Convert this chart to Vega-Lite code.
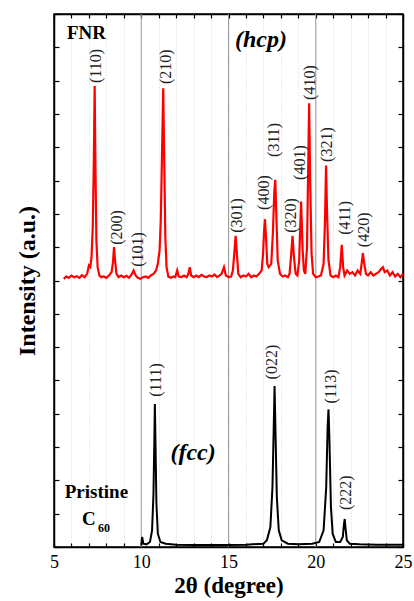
{
  "$schema": "https://vega.github.io/schema/vega-lite/v6.json",
  "width": 349,
  "height": 533,
  "autosize": "none",
  "padding": {"left": 54, "top": 14, "right": 11, "bottom": 54},
  "background": "white",
  "config": {
    "view": {"stroke": "black", "strokeWidth": 1.5},
    "axis": {"domainColor": "black", "domainWidth": 1.5, "tickColor": "black", "tickWidth": 1.2, "labelFont": "Liberation Serif", "titleFont": "Liberation Serif", "labelColor": "black", "titleColor": "black"}
  },
  "datasets": {
    "majors": [{"g": 10}, {"g": 15}, {"g": 20}],
    "fnr": [
      {"x": 5.56, "y": 8.05}, {"x": 5.7, "y": 8.12}, {"x": 5.85, "y": 8.08}, {"x": 6.0, "y": 8.15}, {"x": 6.15, "y": 8.1}, {"x": 6.3, "y": 8.13}, {"x": 6.45, "y": 8.08}, {"x": 6.6, "y": 8.16}, {"x": 6.75, "y": 8.1}, {"x": 6.9, "y": 8.2},
      {"x": 7.0, "y": 8.45}, {"x": 7.08, "y": 8.4}, {"x": 7.15, "y": 8.7}, {"x": 7.22, "y": 9.6}, {"x": 7.28, "y": 11.5}, {"x": 7.33, "y": 13.84}, {"x": 7.38, "y": 11.2}, {"x": 7.43, "y": 9.2}, {"x": 7.5, "y": 8.4}, {"x": 7.6, "y": 8.15},
      {"x": 7.7, "y": 8.1}, {"x": 7.85, "y": 8.12}, {"x": 8.0, "y": 8.08}, {"x": 8.15, "y": 8.15}, {"x": 8.3, "y": 8.25}, {"x": 8.38, "y": 8.55}, {"x": 8.44, "y": 9.0}, {"x": 8.5, "y": 8.6}, {"x": 8.58, "y": 8.2}, {"x": 8.7, "y": 8.1},
      {"x": 8.85, "y": 8.15}, {"x": 9.0, "y": 8.1}, {"x": 9.15, "y": 8.14}, {"x": 9.3, "y": 8.08}, {"x": 9.45, "y": 8.18}, {"x": 9.56, "y": 8.3}, {"x": 9.68, "y": 8.15}, {"x": 9.8, "y": 8.08}, {"x": 9.95, "y": 8.05}, {"x": 10.1, "y": 8.1},
      {"x": 10.25, "y": 8.12}, {"x": 10.4, "y": 8.08}, {"x": 10.55, "y": 8.15}, {"x": 10.7, "y": 8.2}, {"x": 10.85, "y": 8.3}, {"x": 10.95, "y": 8.5}, {"x": 11.05, "y": 8.9}, {"x": 11.12, "y": 9.8}, {"x": 11.19, "y": 11.8}, {"x": 11.26, "y": 13.77},
      {"x": 11.32, "y": 11.5}, {"x": 11.38, "y": 9.3}, {"x": 11.45, "y": 8.4}, {"x": 11.55, "y": 8.12}, {"x": 11.7, "y": 8.08}, {"x": 11.85, "y": 8.12}, {"x": 11.95, "y": 8.1}, {"x": 12.06, "y": 8.3}, {"x": 12.15, "y": 8.12}, {"x": 12.3, "y": 8.1},
      {"x": 12.45, "y": 8.15}, {"x": 12.6, "y": 8.1}, {"x": 12.7, "y": 8.2}, {"x": 12.78, "y": 8.4}, {"x": 12.86, "y": 8.15}, {"x": 13.0, "y": 8.1}, {"x": 13.15, "y": 8.15}, {"x": 13.3, "y": 8.1}, {"x": 13.45, "y": 8.17}, {"x": 13.6, "y": 8.12},
      {"x": 13.75, "y": 8.1}, {"x": 13.9, "y": 8.15}, {"x": 14.05, "y": 8.12}, {"x": 14.2, "y": 8.18}, {"x": 14.35, "y": 8.1}, {"x": 14.5, "y": 8.15}, {"x": 14.6, "y": 8.2}, {"x": 14.74, "y": 8.4}, {"x": 14.85, "y": 8.15}, {"x": 15.0, "y": 8.1},
      {"x": 15.15, "y": 8.12}, {"x": 15.25, "y": 8.3}, {"x": 15.33, "y": 8.8}, {"x": 15.41, "y": 9.34}, {"x": 15.48, "y": 8.8}, {"x": 15.56, "y": 8.2}, {"x": 15.7, "y": 8.1}, {"x": 15.85, "y": 8.15}, {"x": 16.0, "y": 8.12}, {"x": 16.15, "y": 8.2},
      {"x": 16.3, "y": 8.1}, {"x": 16.45, "y": 8.15}, {"x": 16.6, "y": 8.12}, {"x": 16.75, "y": 8.2}, {"x": 16.9, "y": 8.3}, {"x": 16.98, "y": 8.8}, {"x": 17.04, "y": 9.5}, {"x": 17.09, "y": 9.84}, {"x": 17.15, "y": 9.3}, {"x": 17.22, "y": 8.5},
      {"x": 17.3, "y": 8.4}, {"x": 17.45, "y": 8.5}, {"x": 17.55, "y": 9.5}, {"x": 17.62, "y": 10.6}, {"x": 17.68, "y": 11.02}, {"x": 17.74, "y": 10.0}, {"x": 17.82, "y": 8.6}, {"x": 17.95, "y": 8.2}, {"x": 18.1, "y": 8.12}, {"x": 18.25, "y": 8.15},
      {"x": 18.4, "y": 8.1}, {"x": 18.5, "y": 8.2}, {"x": 18.58, "y": 8.7}, {"x": 18.67, "y": 9.34}, {"x": 18.75, "y": 8.7}, {"x": 18.85, "y": 8.2}, {"x": 18.95, "y": 8.15}, {"x": 19.05, "y": 8.6}, {"x": 19.16, "y": 10.37}, {"x": 19.25, "y": 8.9},
      {"x": 19.32, "y": 8.3}, {"x": 19.4, "y": 8.2}, {"x": 19.5, "y": 9.0}, {"x": 19.57, "y": 11.5}, {"x": 19.62, "y": 13.32}, {"x": 19.68, "y": 11.0}, {"x": 19.76, "y": 8.8}, {"x": 19.85, "y": 8.2}, {"x": 20.0, "y": 8.1}, {"x": 20.15, "y": 8.12},
      {"x": 20.3, "y": 8.15}, {"x": 20.45, "y": 8.5}, {"x": 20.53, "y": 9.8}, {"x": 20.59, "y": 11.45}, {"x": 20.65, "y": 10.0}, {"x": 20.73, "y": 8.6}, {"x": 20.85, "y": 8.15}, {"x": 21.0, "y": 8.1}, {"x": 21.15, "y": 8.15}, {"x": 21.3, "y": 8.1},
      {"x": 21.4, "y": 8.4}, {"x": 21.49, "y": 9.07}, {"x": 21.57, "y": 8.4}, {"x": 21.65, "y": 8.15}, {"x": 21.8, "y": 8.3}, {"x": 21.95, "y": 8.2}, {"x": 22.1, "y": 8.25}, {"x": 22.25, "y": 8.15}, {"x": 22.4, "y": 8.3}, {"x": 22.55, "y": 8.2},
      {"x": 22.63, "y": 8.5}, {"x": 22.7, "y": 8.82}, {"x": 22.78, "y": 8.5}, {"x": 22.88, "y": 8.2}, {"x": 23.0, "y": 8.15}, {"x": 23.15, "y": 8.25}, {"x": 23.3, "y": 8.15}, {"x": 23.45, "y": 8.2}, {"x": 23.6, "y": 8.25}, {"x": 23.75, "y": 8.35},
      {"x": 23.85, "y": 8.4}, {"x": 23.95, "y": 8.25}, {"x": 24.1, "y": 8.3}, {"x": 24.25, "y": 8.15}, {"x": 24.4, "y": 8.25}, {"x": 24.55, "y": 8.12}, {"x": 24.7, "y": 8.2}, {"x": 24.85, "y": 8.1}, {"x": 25.0, "y": 8.2}
    ],
    "c60": [
      {"x": 10.0, "y": 0.05}, {"x": 10.05, "y": 0.3}, {"x": 10.12, "y": 0.1}, {"x": 10.3, "y": 0.08}, {"x": 10.5, "y": 0.15}, {"x": 10.62, "y": 0.5}, {"x": 10.7, "y": 1.6}, {"x": 10.75, "y": 3.2}, {"x": 10.78, "y": 4.29}, {"x": 10.82, "y": 3.0},
      {"x": 10.87, "y": 1.3}, {"x": 10.95, "y": 0.4}, {"x": 11.1, "y": 0.15}, {"x": 11.4, "y": 0.1}, {"x": 12.0, "y": 0.07}, {"x": 13.0, "y": 0.06}, {"x": 14.0, "y": 0.06}, {"x": 15.0, "y": 0.06}, {"x": 16.0, "y": 0.07}, {"x": 17.0, "y": 0.1},
      {"x": 17.2, "y": 0.2}, {"x": 17.4, "y": 0.6}, {"x": 17.52, "y": 1.8}, {"x": 17.6, "y": 3.8}, {"x": 17.64, "y": 4.83}, {"x": 17.68, "y": 3.8}, {"x": 17.77, "y": 1.5}, {"x": 17.88, "y": 0.5}, {"x": 18.05, "y": 0.2}, {"x": 18.4, "y": 0.1},
      {"x": 19.0, "y": 0.08}, {"x": 19.8, "y": 0.1}, {"x": 20.2, "y": 0.15}, {"x": 20.45, "y": 0.5}, {"x": 20.6, "y": 1.8}, {"x": 20.68, "y": 3.6}, {"x": 20.73, "y": 4.13}, {"x": 20.78, "y": 3.3}, {"x": 20.87, "y": 1.2}, {"x": 20.97, "y": 0.4},
      {"x": 21.15, "y": 0.15}, {"x": 21.4, "y": 0.15}, {"x": 21.55, "y": 0.3}, {"x": 21.62, "y": 0.7}, {"x": 21.66, "y": 0.84}, {"x": 21.7, "y": 0.6}, {"x": 21.78, "y": 0.2}, {"x": 21.95, "y": 0.1}, {"x": 22.5, "y": 0.08}, {"x": 23.5, "y": 0.07},
      {"x": 25.0, "y": 0.07}
    ],
    "peaks": [
      {"x": 7.4, "y": 13.93, "hkl": "(110)", "series": "FNR"},
      {"x": 8.61, "y": 9.07, "hkl": "(200)", "series": "FNR"},
      {"x": 9.8, "y": 8.41, "hkl": "(101)", "series": "FNR"},
      {"x": 11.4, "y": 13.9, "hkl": "(210)", "series": "FNR"},
      {"x": 15.49, "y": 9.43, "hkl": "(301)", "series": "FNR"},
      {"x": 17.03, "y": 10.12, "hkl": "(400)", "series": "FNR"},
      {"x": 17.6, "y": 11.71, "hkl": "(311)", "series": "FNR"},
      {"x": 18.61, "y": 9.43, "hkl": "(320)", "series": "FNR"},
      {"x": 19.09, "y": 11.02, "hkl": "(401)", "series": "FNR"},
      {"x": 19.66, "y": 13.42, "hkl": "(410)", "series": "FNR"},
      {"x": 20.67, "y": 11.56, "hkl": "(321)", "series": "FNR"},
      {"x": 21.7, "y": 9.37, "hkl": "(411)", "series": "FNR"},
      {"x": 22.74, "y": 9.0, "hkl": "(420)", "series": "FNR"},
      {"x": 10.86, "y": 4.51, "hkl": "(111)", "series": "C60"},
      {"x": 17.52, "y": 5.03, "hkl": "(022)", "series": "C60"},
      {"x": 20.9, "y": 4.31, "hkl": "(113)", "series": "C60"},
      {"x": 21.75, "y": 1.11, "hkl": "(222)", "series": "C60"}
    ],
    "boldnotes": [
      {"x": 6.86, "y": 15.43, "t": "FNR"},
      {"x": 7.43, "y": 1.65, "t": "Pristine"},
      {"x": 7.0, "y": 0.84, "t": "C"}
    ],
    "subnotes": [{"x": 7.86, "y": 0.57, "t": "60"}],
    "phases": [
      {"x": 16.86, "y": 15.22, "t": "(hcp)"},
      {"x": 12.97, "y": 2.82, "t": "(fcc)"}
    ]
  },
  "resolve": {"axis": {"x": "independent", "y": "independent"}},
  "layer": [
    {
      "data": {"name": "majors"},
      "mark": {"type": "rule", "color": "#9a9a9a", "strokeWidth": 1},
      "encoding": {"x": {"field": "g", "type": "quantitative", "scale": {"domain": [5, 25], "nice": false, "zero": false}, "axis": null}}
    },
    {
      "data": {"name": "fnr"},
      "mark": {"type": "line", "color": "#ff0000", "strokeWidth": 2.2, "clip": true},
      "encoding": {
        "x": {"field": "x", "type": "quantitative", "scale": {"domain": [5, 25], "nice": false, "zero": false},
          "axis": {"orient": "bottom", "values": [5,6,7,8,9,10,11,12,13,14,15,16,17,18,19,20,21,22,23,24,25], "labelExpr": "datum.value % 5 === 0 ? datum.label : ''", "tickSize": -4, "labelFontSize": 18, "labelPadding": 10, "labelFlush": false, "labelOverlap": false, "grid": true, "gridColor": "#d8d8d8", "gridDash": [1, 2], "gridWidth": 1, "title": "2θ (degree)", "titleFontSize": 23, "titleFontWeight": "bold", "titlePadding": 3}},
        "y": {"field": "y", "type": "quantitative", "scale": {"domain": [0, 16], "nice": false, "zero": false},
          "axis": {"orient": "left", "values": [0,1,2,3,4,5,6,7,8,9,10,11,12,13,14,15,16], "labels": false, "tickSize": -5, "grid": false, "title": "Intensity (a.u.)", "titleFontSize": 24, "titleFontWeight": "bold", "titlePadding": 14}}
      }
    },
    {
      "data": {"name": "c60"},
      "mark": {"type": "line", "color": "black", "strokeWidth": 2, "clip": true},
      "encoding": {
        "x": {"field": "x", "type": "quantitative", "scale": {"domain": [5, 25], "nice": false, "zero": false},
          "axis": {"orient": "top", "values": [5,6,7,8,9,10,11,12,13,14,15,16,17,18,19,20,21,22,23,24,25], "labels": false, "tickSize": -4, "grid": false, "title": null}},
        "y": {"field": "y", "type": "quantitative", "scale": {"domain": [0, 16], "nice": false, "zero": false},
          "axis": {"orient": "right", "values": [0,1,2,3,4,5,6,7,8,9,10,11,12,13,14,15,16], "labels": false, "tickSize": -5, "grid": false, "title": null}}
      }
    },
    {
      "data": {"name": "peaks"},
      "mark": {"type": "text", "angle": 270, "align": "left", "baseline": "middle", "font": "Liberation Serif", "fontSize": 16},
      "encoding": {
        "x": {"field": "x", "type": "quantitative", "axis": null},
        "y": {"field": "y", "type": "quantitative", "axis": null},
        "text": {"field": "hkl"},
        "color": {"field": "series", "type": "nominal", "scale": {"domain": ["FNR", "C60"], "range": ["#222222", "#222222"]}, "legend": null}
      }
    },
    {
      "data": {"name": "boldnotes"},
      "mark": {"type": "text", "align": "center", "baseline": "middle", "font": "Liberation Serif", "fontSize": 19, "fontWeight": "bold", "color": "black"},
      "encoding": {
        "x": {"field": "x", "type": "quantitative", "axis": null},
        "y": {"field": "y", "type": "quantitative", "axis": null},
        "text": {"field": "t"}
      }
    },
    {
      "data": {"name": "subnotes"},
      "mark": {"type": "text", "align": "center", "baseline": "middle", "font": "Liberation Serif", "fontSize": 12, "fontWeight": "bold", "color": "black"},
      "encoding": {
        "x": {"field": "x", "type": "quantitative", "axis": null},
        "y": {"field": "y", "type": "quantitative", "axis": null},
        "text": {"field": "t"}
      }
    },
    {
      "data": {"name": "phases"},
      "mark": {"type": "text", "align": "center", "baseline": "middle", "font": "Liberation Serif", "fontSize": 24, "fontWeight": "bold", "fontStyle": "italic", "color": "black"},
      "encoding": {
        "x": {"field": "x", "type": "quantitative", "axis": null},
        "y": {"field": "y", "type": "quantitative", "axis": null},
        "text": {"field": "t"}
      }
    }
  ]
}
